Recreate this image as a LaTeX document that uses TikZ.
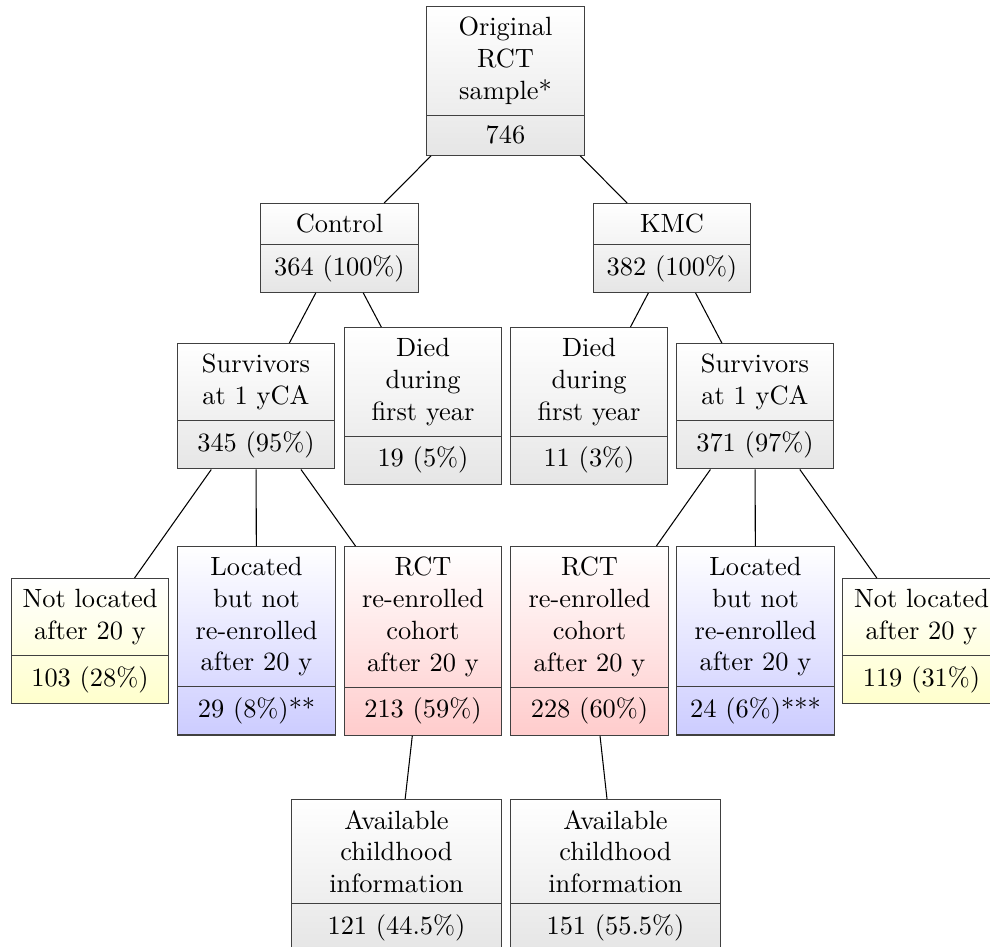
\documentclass[tikz,border=0pt]{standalone}
\usetikzlibrary{shapes.multipart}
\begin{document}
\begin{tikzpicture}[x=0.3788pt,y=-0.3788pt]
\tikzset{
  box/.style={rectangle split, rectangle split parts=2, draw=black!75,
    align=center, text width=1.8cm, inner xsep=1.5mm, inner ysep=3.9pt,
    top color=white, bottom color=gray!20, anchor=north},
  ybox/.style={box, bottom color=yellow!20},
  bbox/.style={box, bottom color=blue!20},
  rbox/.style={box, bottom color=red!20},
  widebox/.style={box, text width=2.5cm},
  link/.style={draw=black, line width=0.4pt}
}
\useasboundingbox (0,0) rectangle (990,946);

\node[box] (root) at (505.5,6) {Original\\RCT\\sample*\nodepart{two}746};

\node[box] (ctrl) at (339.5,203) {Control\nodepart{two}364 (100\%)};
\node[box] (kmc) at (672,203) {KMC\nodepart{two}382 (100\%)};

\node[box] (survL) at (256,343) {Survivors\\at 1 yCA\nodepart{two}345 (95\%)};
\node[box] (diedL) at (423,327) {Died\\during\\first year\nodepart{two}19 (5\%)};
\node[box] (diedR) at (589,327) {Died\\during\\first year\nodepart{two}11 (3\%)};
\node[box] (survR) at (755,343) {Survivors\\at 1 yCA\nodepart{two}371 (97\%)};

\node[ybox] (notL) at (90,578) {Not located\\after 20 y\nodepart{two}103 (28\%)};
\node[bbox] (locL) at (256.5,546) {Located\\but not\\re-enrolled\\after 20 y\nodepart{two}29 (8\%)**};
\node[rbox] (rctL) at (423,546) {RCT\\re-enrolled\\cohort\\after 20 y\nodepart{two}213 (59\%)};
\node[rbox] (rctR) at (589.5,546) {RCT\\re-enrolled\\cohort\\after 20 y\nodepart{two}228 (60\%)};
\node[bbox] (locR) at (755.5,546) {Located\\but not\\re-enrolled\\after 20 y\nodepart{two}24 (6\%)***};
\node[ybox] (notR) at (921.5,578) {Not located\\after 20 y\nodepart{two}119 (31\%)};

\node[widebox] (availL) at (396.5,799) {Available\\childhood\\information\nodepart{two}121 (44.5\%)};
\node[widebox] (availR) at (615.5,799) {Available\\childhood\\information\nodepart{two}151 (55.5\%)};

\path[link] (root) -- (ctrl);
\path[link] (root) -- (kmc);
\path[link] (ctrl) -- (survL);
\path[link] (ctrl) -- (diedL);
\path[link] (kmc) -- (diedR);
\path[link] (kmc) -- (survR);
\path[link] (survL) -- (notL);
\path[link] (survL) -- (locL);
\path[link] (survL) -- (rctL);
\path[link] (survR) -- (rctR);
\path[link] (survR) -- (locR);
\path[link] (survR) -- (notR);
\path[link] (rctL) -- (availL);
\path[link] (rctR) -- (availR);
\end{tikzpicture}
\end{document}
